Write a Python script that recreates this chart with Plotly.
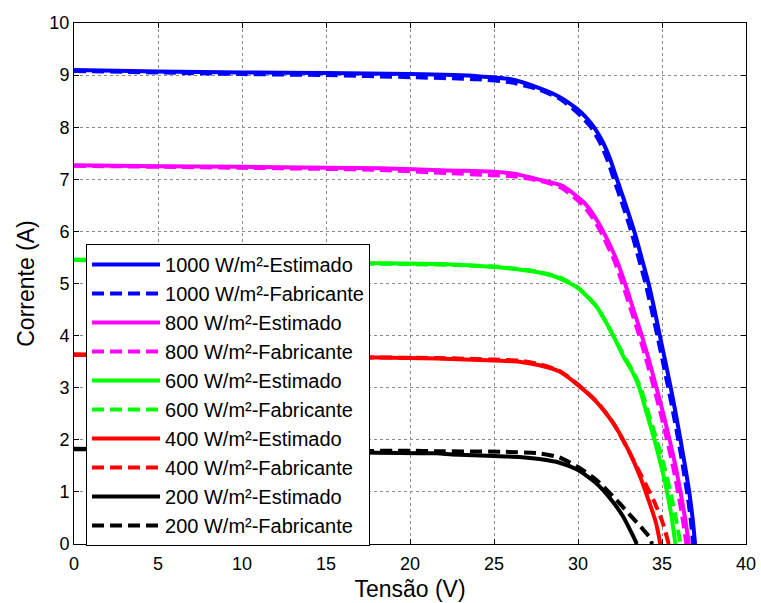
import plotly.graph_objects as go

# ---- data (Tensão V, Corrente A) ----
v_1000_est = [0, 5, 10, 15, 20, 24, 26, 27.7, 28.9, 29.9, 30.45, 30.95, 31.45, 31.9, 32.3, 32.85, 33.35, 33.78, 34.2, 34.55, 34.87, 35.2, 35.52, 35.82, 36.1, 36.37, 36.62, 36.82, 36.97]
i_1000_est = [9.10, 9.07, 9.05, 9.04, 9.02, 8.98, 8.92, 8.75, 8.58, 8.36, 8.20, 8.00, 7.73, 7.40, 7.02, 6.50, 6.00, 5.50, 5.00, 4.50, 4.00, 3.50, 3.00, 2.50, 2.00, 1.50, 1.00, 0.50, 0.0]
v_1000_fab = [0, 5, 10, 15, 20, 24, 26, 27.7, 28.9, 29.75, 30.28, 30.77, 31.27, 31.72, 32.12, 32.67, 33.17, 33.6, 34.02, 34.38, 34.72, 35.05, 35.37, 35.68, 35.97, 36.24, 36.49, 36.7, 36.85]
i_1000_fab = [9.08, 9.05, 9.02, 9.00, 8.96, 8.92, 8.86, 8.72, 8.55, 8.34, 8.18, 8.00, 7.73, 7.40, 7.02, 6.50, 6.00, 5.50, 5.00, 4.50, 4.00, 3.50, 3.00, 2.50, 2.00, 1.50, 1.00, 0.50, 0.0]

v_800_est = [0, 5, 10, 15, 18.2, 22.2, 24.8, 26.1, 27.74, 29.1, 30.4, 31.0, 31.5, 32.3, 32.8, 33.3, 33.8, 34.25, 34.67, 35.08, 35.45, 35.8, 36.1, 36.37, 36.6]
i_800_est = [7.27, 7.25, 7.24, 7.22, 7.21, 7.17, 7.15, 7.11, 6.99, 6.87, 6.54, 6.28, 6.00, 5.45, 5.00, 4.50, 4.00, 3.50, 3.00, 2.50, 2.00, 1.50, 1.00, 0.50, 0.0]
v_800_fab = [0, 5, 10, 15, 18.2, 22.2, 24.8, 26.1, 27.74, 29.0, 30.25, 30.85, 31.35, 32.15, 32.65, 33.15, 33.65, 34.1, 34.52, 34.93, 35.3, 35.65, 35.95, 36.22, 36.45]
i_800_fab = [7.26, 7.24, 7.22, 7.20, 7.18, 7.12, 7.08, 7.06, 6.97, 6.84, 6.52, 6.27, 6.00, 5.45, 5.00, 4.50, 4.00, 3.50, 3.00, 2.50, 2.00, 1.50, 1.00, 0.50, 0.0]

v_600_est = [0, 5, 10, 15, 18.2, 22.2, 24.8, 26.7, 27.7, 28.9, 30.0, 31.1, 32.1, 32.7, 33.25, 33.65, 34.1, 34.55, 34.95, 35.3, 35.58, 35.8]
i_600_est = [5.46, 5.43, 5.41, 5.40, 5.39, 5.37, 5.32, 5.26, 5.21, 5.10, 4.91, 4.56, 4.00, 3.60, 3.30, 3.00, 2.50, 2.00, 1.50, 1.00, 0.50, 0.0]
v_600_fab = [0, 5, 10, 15, 18.2, 22.2, 24.8, 26.7, 27.7, 28.9, 30.0, 31.1, 32.1, 32.75, 33.3, 33.72, 34.2, 34.68, 35.12, 35.5, 35.82, 36.1]
i_600_fab = [5.45, 5.42, 5.40, 5.39, 5.38, 5.36, 5.33, 5.27, 5.22, 5.12, 4.92, 4.56, 4.00, 3.60, 3.30, 3.00, 2.50, 2.00, 1.50, 1.00, 0.50, 0.0]

v_400_est = [0, 5, 10, 15, 18.0, 21.6, 25.0, 26.5, 27.7, 28.9, 30.0, 31.1, 32.1, 33.0, 33.7, 34.2, 34.65, 34.9]
i_400_est = [3.64, 3.62, 3.60, 3.59, 3.58, 3.56, 3.52, 3.50, 3.43, 3.31, 3.05, 2.73, 2.32, 1.80, 1.29, 0.84, 0.40, 0.0]
v_400_fab = [0, 5, 10, 15, 18.0, 21.6, 25.0, 26.5, 27.7, 28.9, 30.0, 31.1, 32.1, 33.0, 33.8, 34.5, 35.05, 35.4]
i_400_fab = [3.63, 3.61, 3.60, 3.59, 3.58, 3.57, 3.54, 3.52, 3.45, 3.32, 3.06, 2.74, 2.32, 1.80, 1.29, 0.84, 0.40, 0.0]

v_200_est = [0, 5, 10, 15, 18.0, 21.6, 22.5, 25.0, 26.5, 27.7, 28.9, 30.0, 31.1, 32.0, 32.7, 33.3, 33.5]
i_200_est = [1.83, 1.81, 1.79, 1.77, 1.75, 1.74, 1.72, 1.69, 1.67, 1.63, 1.56, 1.42, 1.16, 0.84, 0.52, 0.14, 0.0]
v_200_fab = [0, 5, 10, 15, 19.6, 22.0, 25.6, 27.7, 28.9, 30.0, 31.1, 32.3, 33.2, 33.9, 34.3, 34.4]
i_200_fab = [1.82, 1.80, 1.79, 1.78, 1.79, 1.78, 1.77, 1.74, 1.66, 1.48, 1.23, 0.84, 0.52, 0.27, 0.11, 0.0]

series = [
    ("1000 W/m²-Estimado", v_1000_est, i_1000_est, "#0000FF", "solid"),
    ("1000 W/m²-Fabricante", v_1000_fab, i_1000_fab, "#0000FF", "dash"),
    ("800 W/m²-Estimado", v_800_est, i_800_est, "#FF00FF", "solid"),
    ("800 W/m²-Fabricante", v_800_fab, i_800_fab, "#FF00FF", "dash"),
    ("600 W/m²-Estimado", v_600_est, i_600_est, "#00FF00", "solid"),
    ("600 W/m²-Fabricante", v_600_fab, i_600_fab, "#00FF00", "dash"),
    ("400 W/m²-Estimado", v_400_est, i_400_est, "#FF0000", "solid"),
    ("400 W/m²-Fabricante", v_400_fab, i_400_fab, "#FF0000", "dash"),
    ("200 W/m²-Estimado", v_200_est, i_200_est, "#000000", "solid"),
    ("200 W/m²-Fabricante", v_200_fab, i_200_fab, "#000000", "dash"),
]

FONT = "Liberation Sans, Arial, sans-serif"

fig = go.Figure()
for name, v, i, color, dash in series:
    fig.add_trace(go.Scatter(
        x=v, y=i, mode="lines", name=name,
        line=dict(color=color, width=4, dash=("12px,6px" if dash == "dash" else "solid"),
                  shape="spline", smoothing=0.6),
    ))

axis_common = dict(
    showline=True, linecolor="black", linewidth=1, mirror="ticks",
    ticks="inside", ticklen=5, tickcolor="black",
    showgrid=True, gridcolor="#8a8a8a", griddash="dot", gridwidth=1,
    zeroline=False, automargin=False,
    tickfont=dict(family=FONT, size=18, color="black"),
)

fig.update_layout(
    width=761, height=603,
    margin=dict(l=74, r=15, t=23, b=59),
    paper_bgcolor="white", plot_bgcolor="white",
    font=dict(family=FONT, color="black"),
    xaxis=dict(range=[0, 40], dtick=5, tick0=0, ticklabelstandoff=3,
               title=dict(text="Tensão (V)", font=dict(family=FONT, size=23), standoff=8),
               **axis_common),
    yaxis=dict(range=[0, 10], dtick=1, tick0=0,
               title=dict(text="Corrente (A)", font=dict(family=FONT, size=23), standoff=8),
               **axis_common),
    legend=dict(x=0.0179, y=0.576, xanchor="left", yanchor="top",
                bgcolor="white", bordercolor="black", borderwidth=1,
                font=dict(family=FONT, size=20, color="black"),
                itemwidth=68),
    showlegend=True,
)

fig.write_html("out.html")
